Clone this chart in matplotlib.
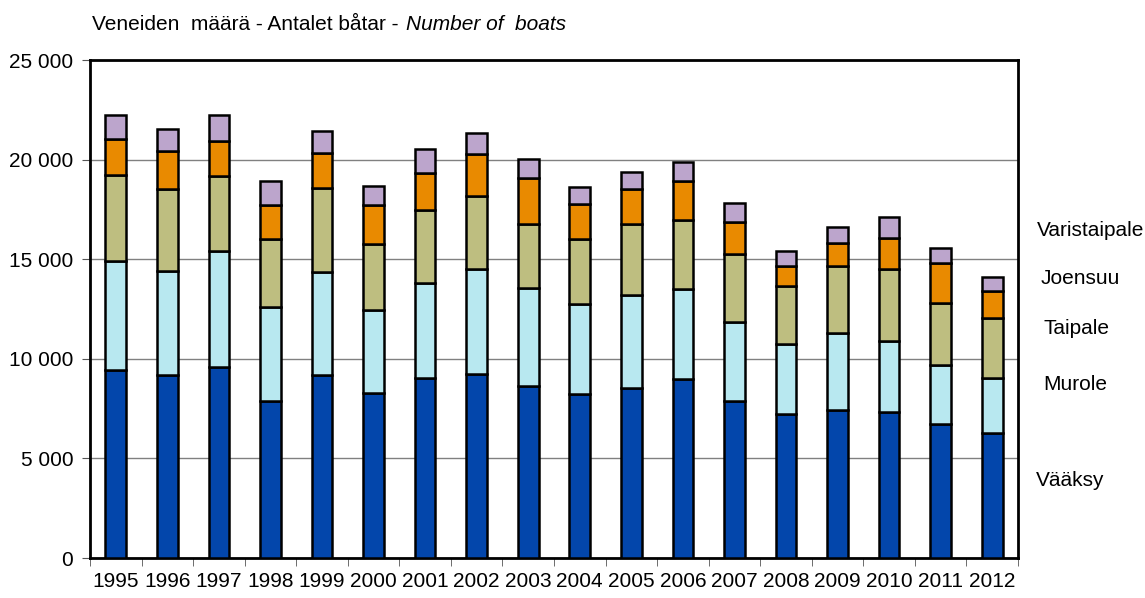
import matplotlib.pyplot as plt
import numpy as np
from matplotlib.ticker import FuncFormatter

plt.rcParams['font.family'] = ['Liberation Sans', 'DejaVu Sans']

years = [str(y) for y in range(1995, 2013)]
vaaksy = [9440, 9170, 9600, 7880, 9170, 8270, 9050, 9250, 8620, 8220,
          8550, 8970, 7880, 7230, 7430, 7340, 6710, 6260]
murole = [5470, 5250, 5830, 4710, 5170, 4180, 4770, 5240, 4920, 4520,
          4670, 4550, 3950, 3510, 3880, 3540, 2980, 2790]
taipale = [4320, 4090, 3750, 3410, 4250, 3300, 3650, 3680, 3230, 3260,
           3530, 3450, 3420, 2930, 3360, 3630, 3100, 3010]
joensuu = [1800, 1920, 1750, 1710, 1730, 1960, 1840, 2100, 2290, 1770,
           1770, 1970, 1630, 1000, 1130, 1570, 2000, 1360]
varistaipale = [1210, 1090, 1310, 1230, 1120, 980, 1210, 1080, 950, 870,
                840, 920, 930, 740, 830, 1020, 790, 670]

series = [vaaksy, murole, taipale, joensuu, varistaipale]
names = ['Vääksy', 'Murole', 'Taipale', 'Joensuu', 'Varistaipale']
colors = ['#0346AB', '#B8E8F0', '#BEBE80', '#E98A00', '#BCA5CC']

fig = plt.figure(figsize=(11.45, 5.98), dpi=100)
ax = fig.add_axes([90/1145, 40/598, 928/1145, 498/598])

x = np.arange(len(years))
bottom = np.zeros(len(years))
for vals, name, c in zip(series, names, colors):
    ax.bar(x, vals, 0.4, bottom=bottom, color=c, edgecolor='black', lw=1.8, zorder=3)
    bottom += np.array(vals)

ax.set_xlim(-0.5, len(years) - 0.5)
ax.set_ylim(0, 25000)
ax.set_yticks(range(0, 25001, 5000))
ax.yaxis.set_major_formatter(FuncFormatter(lambda v, p: f'{int(v):,}'.replace(',', ' ')))
ax.yaxis.grid(True, color='#808080', lw=1, zorder=0)

ax.set_xticks(x)
ax.set_xticklabels(years)
ax.set_xticks(np.arange(-0.5, len(years), 1), minor=True)
ax.tick_params(axis='x', which='major', length=0, pad=10, labelsize=15)
ax.tick_params(axis='x', which='minor', length=6, color='#555555')
ax.tick_params(axis='y', length=6, color='#555555', labelsize=15, pad=6)

for s in ax.spines.values():
    s.set_linewidth(2)
    s.set_color('black')

t1 = fig.text(92/1145, 1 - 25/598, 'Veneiden  määrä - Antalet båtar - ', fontsize=15, va='center')
fig.canvas.draw()
bb = t1.get_window_extent()
fig.text(bb.x1 / 1145 + 2/1145, 1 - 25/598, 'Number of  boats', fontsize=15, va='center', style='italic')

label_y = {'Varistaipale': 230, 'Joensuu': 278, 'Taipale': 329, 'Murole': 385, 'Vääksy': 481}
label_x = {'Varistaipale': 1037, 'Joensuu': 1041, 'Taipale': 1043, 'Murole': 1043, 'Vääksy': 1036}
for name in names:
    fig.text(label_x[name] / 1145, 1 - label_y[name] / 598, name, fontsize=15, va='center')

fig.savefig('out.png', dpi=100)
